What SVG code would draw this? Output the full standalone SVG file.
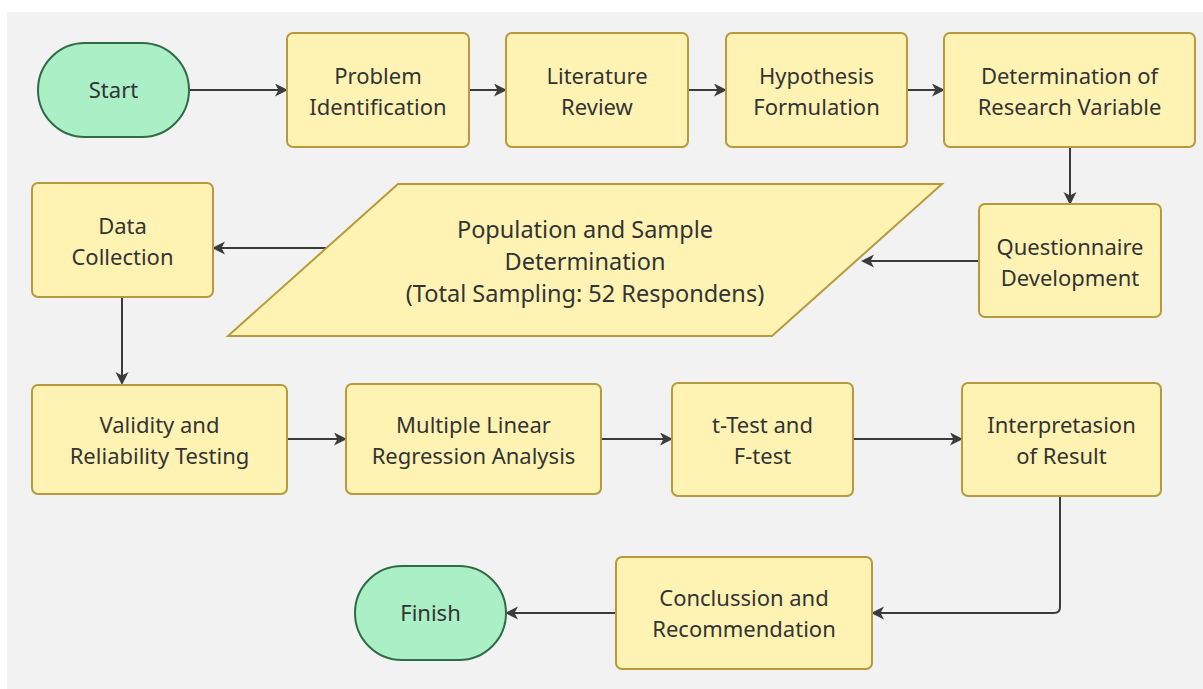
<svg xmlns="http://www.w3.org/2000/svg" width="1203" height="689" viewBox="0 0 1203 689">
<style>
.box{fill:#fff3b3;stroke:#b89a3c;stroke-width:2}
.term{fill:#abefc6;stroke:#2f6b45;stroke-width:2}
.lbl{font-family:"Noto Sans","Open Sans","Liberation Sans",sans-serif;font-size:22px;fill:#333;text-anchor:middle}
.big{font-size:23.5px}
.edge{fill:none;stroke:#3b3b3b;stroke-width:2}
</style>
<defs>
<marker id="arr" markerUnits="userSpaceOnUse" markerWidth="14" markerHeight="14" refX="11" refY="6.5" orient="auto">
<path d="M0,0 L13,6.5 L0,13 L3.5,6.5 z" fill="#3b3b3b"/>
</marker>
</defs>
<rect x="0" y="0" width="1203" height="689" fill="#ffffff"/>
<rect x="7" y="12" width="1196" height="677" fill="#f2f2f2"/>

<g id="connectors">
<path class="edge" d="M189,90 L286,90" marker-end="url(#arr)"/>
<path class="edge" d="M469,90 L505,90" marker-end="url(#arr)"/>
<path class="edge" d="M688,90 L725,90" marker-end="url(#arr)"/>
<path class="edge" d="M907,90 L943,90" marker-end="url(#arr)"/>
<path class="edge" d="M1070,147 L1070,203" marker-end="url(#arr)"/>
<path class="edge" d="M979,261 L863,261" marker-end="url(#arr)"/>
<path class="edge" d="M327,248 L214,248" marker-end="url(#arr)"/>
<path class="edge" d="M122,297 L122,383" marker-end="url(#arr)"/>
<path class="edge" d="M287,439 L345,439" marker-end="url(#arr)"/>
<path class="edge" d="M601,439 L671,439" marker-end="url(#arr)"/>
<path class="edge" d="M853,439 L961,439" marker-end="url(#arr)"/>
<path class="edge" d="M1060,496 L1060,607 Q1060,613 1054,613 L873,613" marker-end="url(#arr)"/>
<path class="edge" d="M616,613 L507,613" marker-end="url(#arr)"/>
</g>

<g id="start">
<rect class="term" x="38" y="43" width="151" height="94" rx="47" ry="47"/>
<text class="lbl" x="113.5" y="98">Start</text>
</g>
<g id="problem">
<rect class="box" x="287" y="33" width="182" height="114" rx="6"/>
<text class="lbl" x="378" y="84">Problem</text>
<text class="lbl" x="378" y="115">Identification</text>
</g>
<g id="literature">
<rect class="box" x="506" y="33" width="182" height="114" rx="6"/>
<text class="lbl" x="597" y="84">Literature</text>
<text class="lbl" x="597" y="115">Review</text>
</g>
<g id="hypothesis">
<rect class="box" x="726" y="33" width="181" height="114" rx="6"/>
<text class="lbl" x="816.5" y="84">Hypothesis</text>
<text class="lbl" x="816.5" y="115">Formulation</text>
</g>
<g id="variable">
<rect class="box" x="944" y="33" width="251" height="114" rx="6"/>
<text class="lbl" x="1069.5" y="84">Determination of</text>
<text class="lbl" x="1069.5" y="115">Research Variable</text>
</g>
<g id="questionnaire">
<rect class="box" x="979" y="204" width="182" height="113" rx="6"/>
<text class="lbl" x="1070" y="255">Questionnaire</text>
<text class="lbl" x="1070" y="286">Development</text>
</g>
<g id="population">
<polygon class="box" points="398,184 942,184 772,336 228,336"/>
<text class="lbl big" x="585" y="238">Population and Sample</text>
<text class="lbl big" x="585" y="270">Determination</text>
<text class="lbl big" x="585" y="302">(Total Sampling: 52 Respondens)</text>
</g>
<g id="datacollection">
<rect class="box" x="32" y="183" width="181" height="114" rx="6"/>
<text class="lbl" x="122.5" y="234">Data</text>
<text class="lbl" x="122.5" y="265">Collection</text>
</g>
<g id="validity">
<rect class="box" x="32" y="385" width="255" height="109" rx="6"/>
<text class="lbl" x="159.5" y="433">Validity and</text>
<text class="lbl" x="159.5" y="464">Reliability Testing</text>
</g>
<g id="regression">
<rect class="box" x="346" y="384" width="255" height="110" rx="6"/>
<text class="lbl" x="473.5" y="433">Multiple Linear</text>
<text class="lbl" x="473.5" y="464">Regression Analysis</text>
</g>
<g id="ttest">
<rect class="box" x="672" y="383" width="181" height="113" rx="6"/>
<text class="lbl" x="762.5" y="433">t-Test and</text>
<text class="lbl" x="762.5" y="464">F-test</text>
</g>
<g id="interpretation">
<rect class="box" x="962" y="383" width="199" height="113" rx="6"/>
<text class="lbl" x="1061.5" y="433">Interpretasion</text>
<text class="lbl" x="1061.5" y="464">of Result</text>
</g>
<g id="conclusion">
<rect class="box" x="616" y="557" width="256" height="112" rx="6"/>
<text class="lbl" x="744" y="606">Conclussion and</text>
<text class="lbl" x="744" y="637">Recommendation</text>
</g>
<g id="finish">
<rect class="term" x="355" y="566" width="151" height="94" rx="47" ry="47"/>
<text class="lbl" x="430.5" y="621">Finish</text>
</g>
</svg>
